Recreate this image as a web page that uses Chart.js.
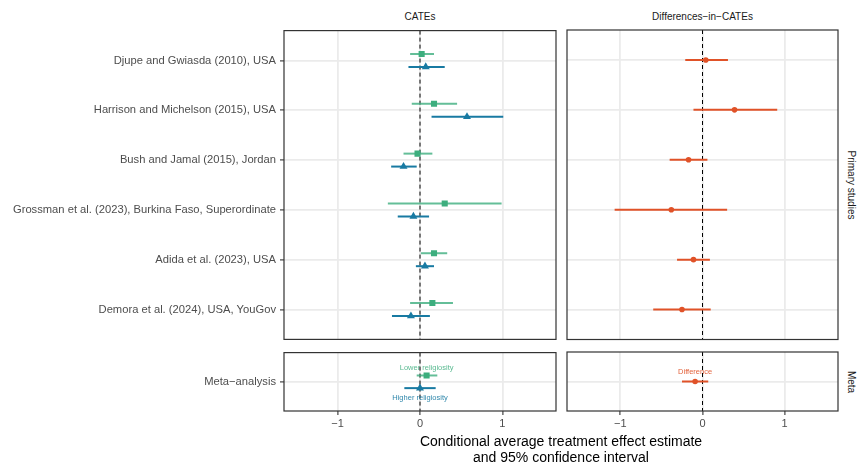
<!DOCTYPE html>
<html>
<head>
<meta charset="utf-8">
<script src="https://cdn.jsdelivr.net/npm/chart.js@4"></script>
<style>
  body { margin: 0; background: #fff; width: 860px; height: 470px; position: relative; overflow: hidden;
         font-family: "Liberation Sans", Arial, sans-serif; }
  canvas { position: absolute; }
  .lab { position: absolute; white-space: nowrap; }
  .strip { font-size: 10px; color: #1a1a1a; transform: translate(-50%, -50%); }
  .side { font-size: 10px; color: #1a1a1a; transform: translate(-50%, -50%) rotate(90deg); }
</style>
</head>
<body>
<canvas id="tl" width="562" height="318" style="left:0;top:26px"></canvas>
<canvas id="tr" width="282" height="318" style="left:562px;top:26px"></canvas>
<canvas id="bl" width="562" height="92" style="left:0;top:348px"></canvas>
<canvas id="br" width="282" height="92" style="left:562px;top:348px"></canvas>

<div class="lab strip" style="left:420px;top:16px">CATEs</div>
<div class="lab strip" style="left:702.5px;top:16px">Differences−in−CATEs</div>
<div class="lab side" style="left:851px;top:184.5px">Primary studies</div>
<div class="lab side" style="left:851px;top:381.5px">Meta</div>
<div class="lab" style="left:561px;top:433px;transform:translateX(-50%);font-size:14px;line-height:16px;text-align:center;color:#000">
  Conditional average treatment effect estimate<br>and 95% confidence interval
</div>

<script>
const studies = [
  'Djupe and Gwiasda (2010), USA',
  'Harrison and Michelson (2015), USA',
  'Bush and Jamal (2015), Jordan',
  'Grossman et al. (2023), Burkina Faso, Superordinate',
  'Adida et al. (2023), USA',
  'Demora et al. (2024), USA, YouGov'
];
const lowerEst = [0.02, 0.17, -0.03, 0.30, 0.17, 0.15];
const lowerLo = [-0.12, -0.10, -0.20, -0.39, 0.01, -0.12];
const lowerHi = [0.17, 0.45, 0.15, 0.99, 0.33, 0.40];
const higherEst = [0.07, 0.57, -0.20, -0.08, 0.06, -0.11];
const higherLo = [-0.14, 0.14, -0.35, -0.27, -0.05, -0.34];
const higherHi = [0.30, 1.01, -0.04, 0.11, 0.17, 0.12];
const diffEst = [0.04, 0.39, -0.17, -0.38, -0.11, -0.25];
const diffLo = [-0.21, -0.11, -0.40, -1.07, -0.31, -0.60];
const diffHi = [0.31, 0.91, 0.06, 0.30, 0.09, 0.10];

const metaRows = ['Meta−analysis'];
const metaLowerEst = [0.08], metaLowerLo = [-0.04], metaLowerHi = [0.21];
const metaHigherEst = [0.00], metaHigherLo = [-0.19], metaHigherHi = [0.19];
const metaDiffEst = [-0.09], metaDiffLo = [-0.25], metaDiffHi = [0.07];

const xTicks = [-1, 0, 1];

const GREEN = '#3dae7e', BLUE = '#187aa2', RED = '#e05228';

Chart.defaults.font.family = '"Liberation Sans", Arial, sans-serif';

function rows(est, lo, hi, shift) {
  return est.map((e, i) => ({ x: e, y: i + 1 + shift, lo: lo[i], hi: hi[i] }));
}

// zero line, error bars, notes and panel border
const forest = {
  id: 'forest',
  beforeDatasetsDraw(chart) {
    const { ctx, chartArea: a, scales: { x, y } } = chart;
    ctx.save();
    const x0 = x.getPixelForValue(0);
    ctx.strokeStyle = '#000';
    ctx.lineWidth = 1;
    ctx.setLineDash([4, 3]);
    ctx.beginPath(); ctx.moveTo(x0, a.top); ctx.lineTo(x0, a.bottom); ctx.stroke();
    ctx.setLineDash([]);
    chart.data.datasets.forEach(ds => {
      ctx.strokeStyle = ds.barColor;
      ctx.lineWidth = 2;
      ds.data.forEach(p => {
        const py = y.getPixelForValue(p.y);
        ctx.beginPath();
        ctx.moveTo(x.getPixelForValue(p.lo), py);
        ctx.lineTo(x.getPixelForValue(p.hi), py);
        ctx.stroke();
      });
    });
    ctx.restore();
  },
  afterDatasetsDraw(chart) {
    const { ctx, scales: { x, y } } = chart;
    ctx.save();
    ctx.font = '7.5px "Liberation Sans", Arial, sans-serif';
    ctx.textAlign = 'center';
    ctx.textBaseline = 'middle';
    chart.data.datasets.forEach(ds => {
      if (!ds.note) return;
      const p = ds.data[0];
      ctx.fillStyle = ds.noteColor;
      ctx.fillText(ds.note, x.getPixelForValue(p.x), y.getPixelForValue(p.y) + ds.noteDy);
    });
    ctx.restore();
  },
  afterDraw(chart) {
    const { ctx, chartArea: a } = chart;
    ctx.save();
    ctx.strokeStyle = '#333';
    ctx.lineWidth = 1.2;
    ctx.strokeRect(a.left, a.top, a.width, a.height);
    ctx.restore();
  }
};

function panel(id, o) {
  new Chart(document.getElementById(id), {
    type: 'scatter',
    data: { datasets: o.datasets },
    options: {
      responsive: false,
      animation: false,
      layout: { padding: o.pad },
      plugins: { legend: { display: false }, tooltip: { enabled: false } },
      scales: {
        x: {
          min: -1.65, max: 1.65,
          afterBuildTicks: s => { s.ticks = xTicks.map(v => ({ value: v })); },
          afterFit: s => { s.height = o.showX ? 22 : 0; s.paddingLeft = 0; s.paddingRight = 0; },
          border: { display: false },
          grid: { color: '#ebebeb', lineWidth: 1.8, drawTicks: o.showX, tickLength: 4, tickColor: '#333', tickWidth: 1.1 },
          ticks: {
            display: o.showX, color: '#4d4d4d', font: { size: 11 }, padding: 2, maxRotation: 0,
            callback: v => v < 0 ? '−' + Math.abs(v) : String(v)
          }
        },
        y: {
          reverse: true,
          min: 0.4, max: o.rows.length + 0.6,
          afterBuildTicks: s => { s.ticks = o.rows.map((r, i) => ({ value: i + 1 })); },
          afterFit: s => { s.width = o.showY ? 284 : 0; s.paddingTop = 0; s.paddingBottom = 0; },
          border: { display: false },
          grid: { color: '#ebebeb', lineWidth: 1.8, drawTicks: o.showY, tickLength: 4, tickColor: '#333', tickWidth: 1.1 },
          ticks: {
            display: o.showY, color: '#4d4d4d', font: { size: 11.2 }, padding: 4,
            callback: v => o.rows[Math.round(v) - 1]
          }
        }
      }
    },
    plugins: [forest]
  });
}

function lowerSet(data, note) {
  return { data, pointStyle: 'rect', pointRadius: 4.3, pointBorderWidth: 0, backgroundColor: GREEN,
           barColor: 'rgba(61,174,126,0.8)', note, noteColor: 'rgba(61,174,126,0.85)', noteDy: -8 };
}
function higherSet(data, note) {
  return { data, pointStyle: 'triangle', pointRadius: 4.6, pointBorderWidth: 0, backgroundColor: BLUE,
           barColor: BLUE, note, noteColor: 'rgba(24,122,162,0.9)', noteDy: 10 };
}
function diffSet(data, note) {
  return { data, pointStyle: 'circle', pointRadius: 2.8, pointBorderWidth: 0, backgroundColor: RED,
           barColor: RED, note, noteColor: 'rgba(224,82,40,0.9)', noteDy: -9.5 };
}

panel('tl', {
  rows: studies, showY: true, showX: false,
  pad: { left: 0, right: 6, top: 3.5, bottom: 4.5 },
  datasets: [
    lowerSet(rows(lowerEst, lowerLo, lowerHi, -0.13)),
    higherSet(rows(higherEst, higherLo, higherHi, 0.13))
  ]
});
panel('tr', {
  rows: studies, showY: false, showX: false,
  pad: { left: 5, right: 6, top: 3.5, bottom: 4.5 },
  datasets: [diffSet(rows(diffEst, diffLo, diffHi, 0))]
});
panel('bl', {
  rows: metaRows, showY: true, showX: true,
  pad: { left: 0, right: 6, top: 4, bottom: 7 },
  datasets: [
    lowerSet(rows(metaLowerEst, metaLowerLo, metaLowerHi, -0.13), 'Lower religiosity'),
    higherSet(rows(metaHigherEst, metaHigherLo, metaHigherHi, 0.13), 'Higher religiosity')
  ]
});
panel('br', {
  rows: metaRows, showY: false, showX: true,
  pad: { left: 5, right: 6, top: 4, bottom: 7 },
  datasets: [diffSet(rows(metaDiffEst, metaDiffLo, metaDiffHi, 0), 'Difference')]
});
</script>
</body>
</html>
